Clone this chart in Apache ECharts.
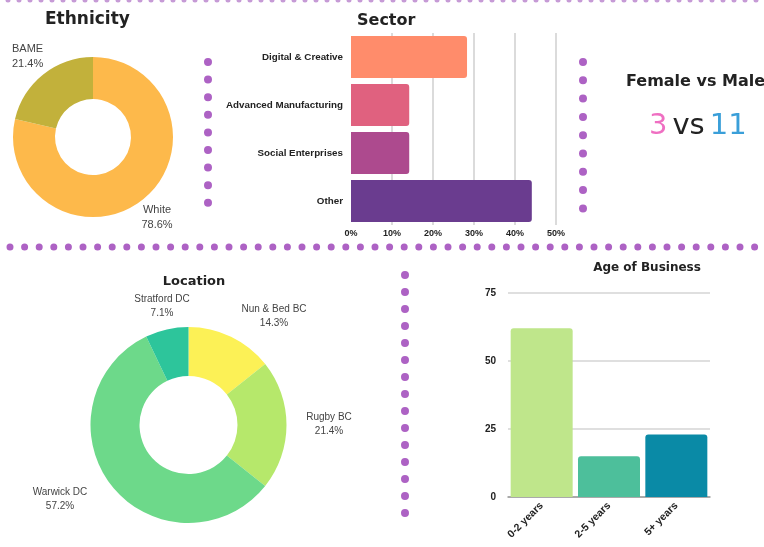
<!DOCTYPE html>
<html>
<head>
<meta charset="utf-8">
<script src="https://cdn.jsdelivr.net/npm/echarts@6/dist/echarts.min.js"></script>
<style>
    html, body { margin: 0; padding: 0; background: #fff; }
    #chart { width: 764px; height: 547px; }
</style>
</head>
<body>
<div id="chart"></div>
<script>
// ethnicity donut
const ethnicityNames = ['White', 'BAME'];
const ethnicityValues = [78.6, 21.4];

// sector bars (percent)
const sectorNames = ['Digital & Creative', 'Advanced Manufacturing', 'Social Enterprises', 'Other'];
const sectorValues = [28.3, 14.2, 14.2, 44.1];

// gender counts
const femaleCount = 3;
const maleCount = 11;

// location donut
const locationNames = ['Nun & Bed BC', 'Rugby BC', 'Warwick DC', 'Stratford DC'];
const locationValues = [14.3, 21.4, 57.2, 7.1];

// age of business
const ageNames = ['0-2 years', '2-5 years', '5+ years'];
const ageValues = [62, 15, 23];

const titleFont = 'DejaVu Sans';
const labelFont = 'Liberation Sans';
const dotColor = '#ad62c4';

// where the pie labels sit (the design places them by hand)
const ethnicityLabelPos = [[157, 202, 'center'], [12, 41, 'left']];
const locationLabelPos = [[274, 302], [329, 410], [60, 485], [162, 292]];

function dotLine(x1, y1, x2, y2, gap, width, color) {
    return {
        type: 'line',
        silent: true,
        shape: { x1: x1, y1: y1, x2: x2, y2: y2 },
        style: {
            stroke: color || dotColor,
            lineWidth: width || 8,
            lineDash: [0, gap],
            lineCap: 'round'
        }
    };
}

const chart = echarts.init(document.getElementById('chart'));

const option = {
    backgroundColor: '#fff',
    animation: false,
    textStyle: { fontFamily: labelFont },
    title: [
        {
            text: 'Ethnicity', left: 40, top: 6,
            textStyle: { fontFamily: titleFont, fontSize: 17, fontWeight: 'bold', color: '#222' }
        },
        {
            text: 'Sector', left: 352, top: 8,
            textStyle: { fontFamily: titleFont, fontSize: 16, fontWeight: 'bold', color: '#222' }
        },
        {
            text: 'Female vs Male', left: 621, top: 69,
            textStyle: { fontFamily: titleFont, fontSize: 16, fontWeight: 'bold', color: '#222' }
        },
        {
            text: '{f|' + femaleCount + '} {v|vs} {m|' + maleCount + '}', left: 644, top: 107,
            textStyle: {
                fontWeight: 'normal',
                rich: {
                    f: { fontFamily: titleFont, fontSize: 29, fontWeight: 'normal', color: '#ef6fc2' },
                    v: { fontFamily: titleFont, fontSize: 29, fontWeight: 'normal', color: '#222' },
                    m: { fontFamily: titleFont, fontSize: 29, fontWeight: 'normal', color: '#3a9fd9' }
                }
            }
        },
        {
            text: 'Location', left: 189, top: 270, textAlign: 'center',
            textStyle: { fontFamily: titleFont, fontSize: 13, fontWeight: 'bold', color: '#222' }
        },
        {
            text: 'Age of Business', left: 642, top: 257, textAlign: 'center',
            textStyle: { fontFamily: titleFont, fontSize: 12, fontWeight: 'bold', color: '#222' }
        }
    ],
    grid: [
        { left: 351, right: 208, top: 33, bottom: 322 },
        { left: 508, right: 54, top: 293, bottom: 50 }
    ],
    xAxis: [
        {
            gridIndex: 0,
            type: 'value',
            min: 0,
            max: 50,
            interval: 10,
            axisLine: { show: false },
            axisTick: { show: false },
            splitLine: { showMinLine: false, lineStyle: { color: '#cfcfcf', width: 1.5 } },
            axisLabel: {
                formatter: '{value}%', fontSize: 9, fontWeight: 'bold', color: '#222',
                fontFamily: labelFont, margin: 4
            }
        },
        {
            gridIndex: 1,
            type: 'category',
            data: ageNames,
            axisLine: { lineStyle: { color: '#999', width: 1.5 } },
            axisTick: { show: false },
            axisLabel: {
                rotate: 45, fontSize: 10.5, fontWeight: 'bold', color: '#222',
                fontFamily: labelFont, margin: 7, interval: 0
            }
        }
    ],
    yAxis: [
        {
            gridIndex: 0,
            type: 'category',
            data: sectorNames,
            inverse: true,
            axisLine: { show: false },
            axisTick: { show: false },
            axisLabel: {
                fontSize: 9.8, fontWeight: 'bold', color: '#222', fontFamily: labelFont, margin: 8
            }
        },
        {
            gridIndex: 1,
            type: 'value',
            min: 0,
            max: 75,
            interval: 25,
            axisLine: { show: false },
            axisTick: { show: false },
            splitLine: { lineStyle: { color: '#d4d4d4', width: 1.5 } },
            axisLabel: {
                fontSize: 10, fontWeight: 'bold', color: '#222', fontFamily: labelFont, margin: 12
            }
        }
    ],
    series: [
        {
            name: 'Ethnicity',
            type: 'pie',
            center: [93, 137],
            radius: [38, 80],
            startAngle: 90,
            label: {
                show: true,
                formatter: '{b}\n{d}%',
                fontSize: 11,
                color: '#444',
                lineHeight: 15,
                overflow: 'none'
            },
            labelLine: { show: false },
            labelLayout: function (p) {
                const pos = ethnicityLabelPos[p.dataIndex];
                return { x: pos[0], y: pos[1], align: pos[2], verticalAlign: 'top' };
            },
            data: ethnicityNames.map((n, i) => ({
                name: n,
                value: ethnicityValues[i],
                itemStyle: { color: ['#fdb94b', '#c2b13b'][i] }
            }))
        },
        {
            name: 'Location',
            type: 'pie',
            center: [188.5, 425],
            radius: [49, 98],
            startAngle: 90,
            label: {
                show: true,
                formatter: '{b}\n{d}%',
                fontSize: 10,
                color: '#444',
                lineHeight: 14,
                overflow: 'none'
            },
            labelLine: { show: false },
            labelLayout: function (p) {
                const pos = locationLabelPos[p.dataIndex];
                return { x: pos[0], y: pos[1], align: 'center', verticalAlign: 'top' };
            },
            data: locationNames.map((n, i) => ({
                name: n,
                value: locationValues[i],
                itemStyle: { color: ['#fcf156', '#b6e86b', '#6dd98a', '#2dc59b'][i] }
            }))
        },
        {
            name: 'Sector',
            type: 'bar',
            xAxisIndex: 0,
            yAxisIndex: 0,
            barWidth: 42,
            data: sectorValues.map((v, i) => ({
                value: v,
                itemStyle: {
                    color: ['#ff8c6b', '#e0617f', '#ad4a8e', '#6a3c8f'][i],
                    borderRadius: [0, 3, 3, 0]
                }
            }))
        },
        {
            name: 'Age of Business',
            type: 'bar',
            xAxisIndex: 1,
            yAxisIndex: 1,
            barWidth: 62,
            data: ageValues.map((v, i) => ({
                value: v,
                itemStyle: {
                    color: ['#bfe68b', '#4dbf9b', '#0a8aa6'][i],
                    borderRadius: [3, 3, 0, 0]
                }
            }))
        }
    ],
    graphic: [
        dotLine(8, 0, 764, 0, 11, 5, '#c69ad6'),
        dotLine(208, 62, 208, 203, 17.6, 8),
        dotLine(583, 62, 583, 209, 18.3, 8),
        dotLine(10, 247, 764, 247, 14.6, 7),
        dotLine(405, 275, 405, 514, 17, 8)
    ]
};

chart.setOption(option);
</script>
</body>
</html>
